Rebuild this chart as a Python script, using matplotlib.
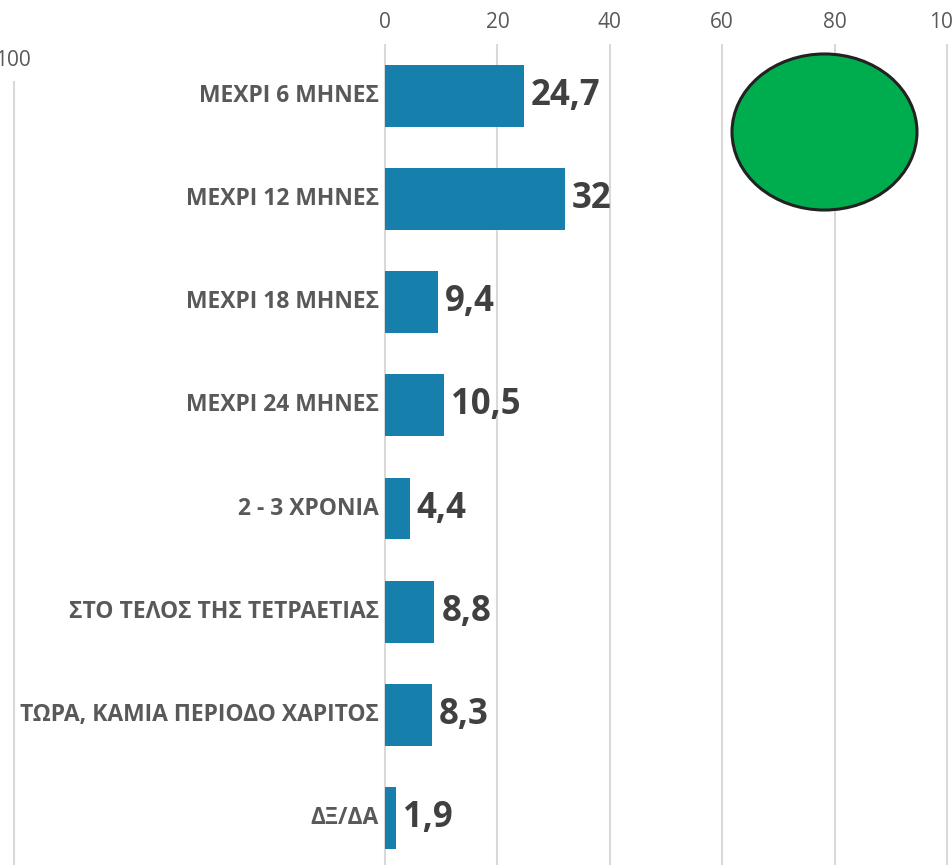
import matplotlib
matplotlib.use("Agg")
import matplotlib.pyplot as plt
from matplotlib import font_manager as fm
from matplotlib.patches import Ellipse

categories = ["ΜΕΧΡΙ 6 ΜΗΝΕΣ", "ΜΕΧΡΙ 12 ΜΗΝΕΣ", "ΜΕΧΡΙ 18 ΜΗΝΕΣ", "ΜΕΧΡΙ 24 ΜΗΝΕΣ",
              "2 - 3 ΧΡΟΝΙΑ", "ΣΤΟ ΤΕΛΟΣ ΤΗΣ ΤΕΤΡΑΕΤΙΑΣ", "ΤΩΡΑ, ΚΑΜΙΑ ΠΕΡΙΟΔΟ ΧΑΡΙΤΟΣ", "ΔΞ/ΔΑ"]
values = [24.7, 32, 9.4, 10.5, 4.4, 8.8, 8.3, 1.9]
value_labels = ["24,7", "32", "9,4", "10,5", "4,4", "8,8", "8,3", "1,9"]
xticks = [0, 20, 40, 60, 80, 100]

family = ["Open Sans", "DejaVu Sans"]

def fp(size, weight="normal"):
    return fm.FontProperties(family=family, weight=weight, size=size)

W, H = 952, 865
fig = plt.figure(figsize=(W / 100, H / 100), dpi=100)
left_px, top_px = 13, 44
ax = fig.add_axes([left_px / W, 0, 1 - left_px / W, 1 - top_px / H])

px_per_unit = (947 - 385) / 100.0
xmin = -(385 - left_px) / px_per_unit
xmax = (W - 385) / px_per_unit
ax.set_xlim(xmin, xmax)
ax.set_ylim(7.456, -0.504)

bar_color = "#167fab"
ax.barh(range(len(values)), values, height=0.6, color=bar_color, zorder=3)

for x in xticks:
    ax.axvline(x, color="#d9d9d9", lw=1.5, zorder=1)
# left decorative gridline starting lower (y pixel ~82)
ax.axvline(xmin + 0.15, ymin=0, ymax=(H - 82) / (H - top_px), color="#d9d9d9", lw=1.5, zorder=1)

ax.xaxis.tick_top()
ax.set_xticks(xticks)
ax.set_xticklabels([str(t) for t in xticks], fontproperties=fp(15), color="#595959")
ax.tick_params(axis="x", length=0, pad=8)
ax.set_yticks([])
for s in ax.spines.values():
    s.set_visible(False)

for i, (lab, v, vl) in enumerate(zip(categories, values, value_labels)):
    ax.annotate(lab, xy=(0, i), xytext=(-6, 0), textcoords="offset pixels",
                ha="right", va="center", fontproperties=fp(16.5, "bold"), color="#595959")
    ax.annotate(vl, xy=(v, i), xytext=(7, 0), textcoords="offset pixels",
                ha="left", va="center", fontproperties=fp(25, "bold"), color="#404040")

fig.text(left_px / W, 1 - 60 / H, "100", ha="center", va="center",
         fontproperties=fp(15), color="#595959")

# green ellipse decoration
ex = (824.5 - 385) / px_per_unit
ey = (132 - 96) / 103.1
ax.add_patch(Ellipse((ex, ey), width=185 / px_per_unit, height=156 / 103.1,
                     facecolor="#00ad4e", edgecolor="#222222", lw=2.2, zorder=4))

fig.savefig("out.png", dpi=100)
